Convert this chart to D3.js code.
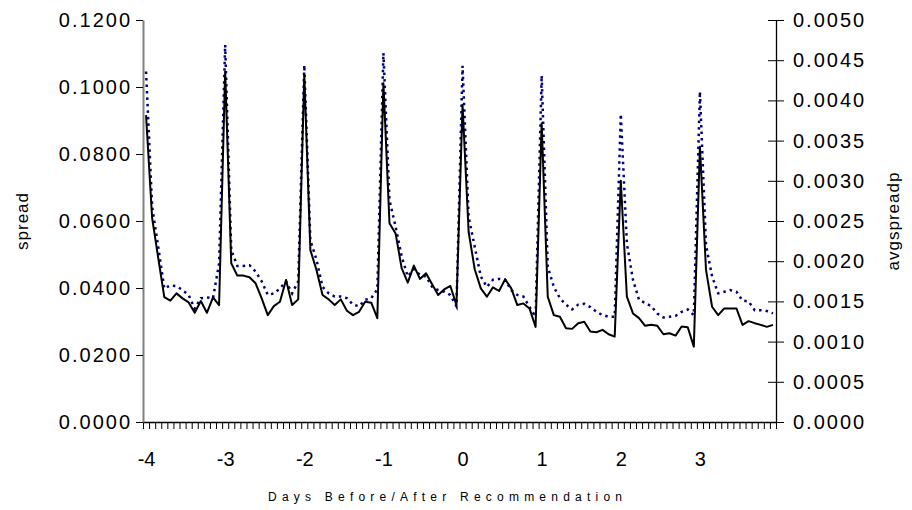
<!DOCTYPE html>
<html>
<head>
<meta charset="utf-8">
<script src="https://cdn.jsdelivr.net/npm/d3@7"></script>
<style>
  body { margin: 0; background: #fff; }
  svg { display: block; font-family: Arial, "Liberation Sans", sans-serif; }
</style>
</head>
<body>
<svg width="912" height="510"></svg>
<script>
// days around the recommendation, 13 intraday observations per day
const dayLabels = [-4, -3, -2, -1, 0, 1, 2, 3];
const pointsPerDay = 13;

// left axis series
const spread = [
  0.0916, 0.0609, 0.0490, 0.0373, 0.0362, 0.0384, 0.0369, 0.0357, 0.0326, 0.0361, 0.0326, 0.0372, 0.0349,
  0.1046, 0.0474, 0.0437, 0.0437, 0.0432, 0.0414, 0.0369, 0.0319, 0.0346, 0.0359, 0.0424, 0.0349, 0.0366,
  0.1036, 0.0513, 0.0454, 0.0379, 0.0366, 0.0349, 0.0366, 0.0332, 0.0319, 0.0329, 0.0359, 0.0356, 0.0310,
  0.1011, 0.0593, 0.0563, 0.0459, 0.0416, 0.0467, 0.0427, 0.0444, 0.0411, 0.0379, 0.0396, 0.0406, 0.0349,
  0.0946, 0.0568, 0.0456, 0.0399, 0.0374, 0.0402, 0.0391, 0.0426, 0.0399, 0.0349, 0.0354, 0.0339, 0.0284,
  0.0892, 0.0374, 0.0319, 0.0314, 0.0280, 0.0278, 0.0295, 0.0299, 0.0270, 0.0268, 0.0275, 0.0262, 0.0255,
  0.0720, 0.0374, 0.0324, 0.0310, 0.0287, 0.0290, 0.0287, 0.0262, 0.0265, 0.0258, 0.0285, 0.0283, 0.0225,
  0.0822, 0.0454, 0.0344, 0.0319, 0.0339, 0.0339, 0.0339, 0.0290, 0.0301, 0.0295, 0.0290, 0.0284, 0.0290
];

// right axis series
const avgspreadp = [
  0.00436, 0.00268, 0.00218, 0.00166, 0.00170, 0.00169, 0.00164, 0.00158, 0.00141, 0.00154, 0.00155, 0.00154, 0.00197,
  0.00469, 0.00214, 0.00194, 0.00194, 0.00195, 0.00187, 0.00175, 0.00158, 0.00160, 0.00166, 0.00175, 0.00160, 0.00175,
  0.00444, 0.00226, 0.00202, 0.00168, 0.00160, 0.00156, 0.00156, 0.00154, 0.00146, 0.00144, 0.00152, 0.00154, 0.00165,
  0.00459, 0.00276, 0.00243, 0.00206, 0.00181, 0.00190, 0.00183, 0.00181, 0.00168, 0.00164, 0.00162, 0.00158, 0.00144,
  0.00443, 0.00255, 0.00218, 0.00181, 0.00168, 0.00177, 0.00178, 0.00177, 0.00164, 0.00158, 0.00156, 0.00143, 0.00131,
  0.00431, 0.00193, 0.00168, 0.00154, 0.00146, 0.00140, 0.00146, 0.00147, 0.00143, 0.00137, 0.00133, 0.00131, 0.00131,
  0.00383, 0.00222, 0.00177, 0.00152, 0.00148, 0.00144, 0.00135, 0.00130, 0.00131, 0.00132, 0.00137, 0.00140, 0.00133,
  0.00411, 0.00220, 0.00181, 0.00160, 0.00162, 0.00164, 0.00162, 0.00151, 0.00150, 0.00139, 0.00139, 0.00138, 0.00135
];

const leftTicks = [0, 0.02, 0.04, 0.06, 0.08, 0.10, 0.12];
const rightTicks = [0, 0.0005, 0.001, 0.0015, 0.002, 0.0025, 0.003, 0.0035, 0.004, 0.0045, 0.005];

let svg = d3.select('svg');

let margin = { left: 143, right: 136, top: 20, bottom: 88 };
let width = 912, height = 510;
let bottom = height - margin.bottom;

// one slot per observation, ticks between slots
let x = d3.scaleLinear()
  .domain([0, spread.length])
  .range([margin.left, width - margin.right]);

let yL = d3.scaleLinear().domain([0, 0.12]).range([bottom, margin.top]);
let yR = d3.scaleLinear().domain([0, 0.005]).range([bottom, margin.top]);

let fmt = d3.format('.4f');

// x axis: small ticks at every slot boundary
let xTicks = svg.append('g')
  .attr('transform', `translate(0,${bottom})`)
  .call(d3.axisBottom(x).tickValues(d3.range(0, spread.length + 1)).tickFormat('').tickSize(7).tickSizeOuter(0));
xTicks.select('.domain').attr('stroke', '#000').attr('stroke-width', 1.3);
xTicks.selectAll('.tick line').attr('stroke', '#000');

// day labels at the first observation of each day
let xLabels = svg.append('g')
  .attr('transform', `translate(0,${bottom})`)
  .call(d3.axisBottom(x)
    .tickValues(dayLabels.map((d, i) => i * pointsPerDay + 0.5))
    .tickFormat((d, i) => String(dayLabels[i]))
    .tickSize(0).tickPadding(30));
xLabels.select('.domain').remove();
xLabels.selectAll('text')
  .attr('font-size', 20).attr('fill', '#000')
  .style('font-family', 'Arial, "Liberation Sans", sans-serif');

// left axis
let leftAxis = svg.append('g')
  .attr('transform', `translate(${margin.left},0)`)
  .call(d3.axisLeft(yL).tickValues(leftTicks).tickFormat(fmt).tickSize(7).tickPadding(4).tickSizeOuter(0));
leftAxis.select('.domain').attr('stroke', '#808080').attr('stroke-width', 2);
leftAxis.selectAll('.tick line').attr('stroke', '#000');
leftAxis.selectAll('text')
  .attr('font-size', 20).attr('fill', '#000').attr('letter-spacing', 2)
  .style('font-family', 'Arial, "Liberation Sans", sans-serif');

// right axis, ticks cross the line
let rightAxis = svg.append('g')
  .attr('transform', `translate(${width - margin.right},0)`)
  .call(d3.axisRight(yR).tickValues(rightTicks).tickFormat(fmt).tickSize(8).tickPadding(9).tickSizeOuter(0));
rightAxis.select('.domain').attr('stroke', '#000').attr('stroke-width', 1.3);
rightAxis.selectAll('.tick line').attr('x1', -8).attr('stroke', '#000');
rightAxis.selectAll('text')
  .attr('font-size', 20).attr('fill', '#000').attr('letter-spacing', 2)
  .style('font-family', 'Arial, "Liberation Sans", sans-serif');

// lines
let lineR = d3.line().x((d, i) => x(i + 0.5)).y(d => yR(d));
let lineL = d3.line().x((d, i) => x(i + 0.5)).y(d => yL(d));

svg.append('path')
  .datum(avgspreadp)
  .attr('fill', 'none')
  .attr('stroke', '#000080')
  .attr('stroke-width', 2.5)
  .attr('stroke-dasharray', '2.5,4')
  .attr('d', lineR);

svg.append('path')
  .datum(spread)
  .attr('fill', 'none')
  .attr('stroke', '#000')
  .attr('stroke-width', 2)
  .attr('stroke-linejoin', 'round')
  .attr('d', lineL);

// axis titles
svg.append('text')
  .attr('transform', 'translate(28,221) rotate(-90)')
  .attr('text-anchor', 'middle')
  .attr('font-size', 17)
  .attr('letter-spacing', 1)
  .text('spread');

svg.append('text')
  .attr('transform', 'translate(899,221) rotate(-90)')
  .attr('text-anchor', 'middle')
  .attr('font-size', 17)
  .attr('letter-spacing', 1)
  .text('avgspreadp');

svg.append('text')
  .attr('x', 268)
  .attr('y', 501)
  .attr('font-size', 12)
  .attr('textLength', 354)
  .attr('lengthAdjust', 'spacing')
  .text('Days Before/After Recommendation');
</script>
</body>
</html>
